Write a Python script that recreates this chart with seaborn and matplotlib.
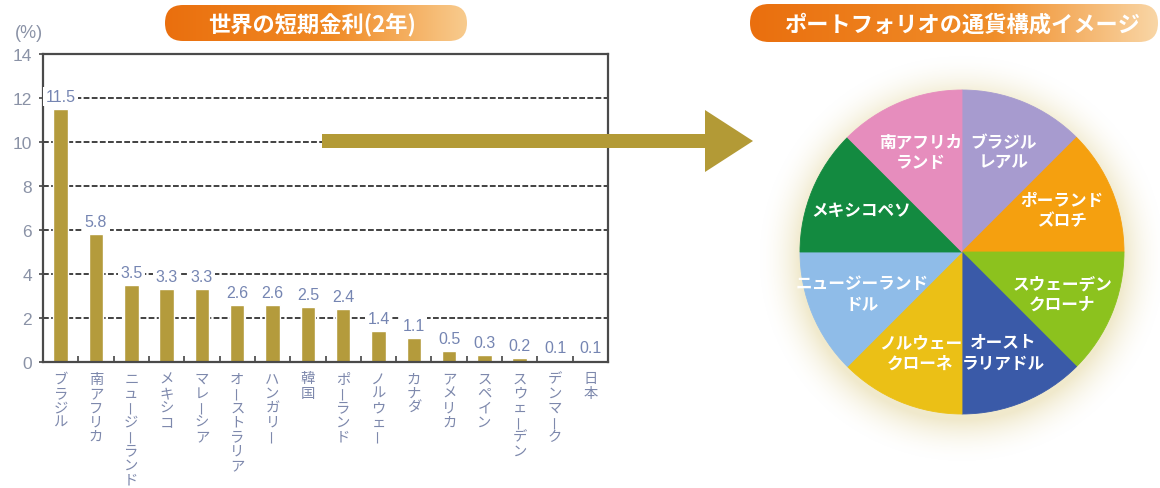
import numpy as np
import pandas as pd
import matplotlib
matplotlib.use("Agg")
import matplotlib.pyplot as plt
import seaborn as sns
from matplotlib.patches import FancyBboxPatch, Polygon
from matplotlib.colors import to_rgb

# ---------------- data ----------------
countries = ["ブラジル", "南アフリカ", "ニュージーランド", "メキシコ", "マレーシア",
             "オーストラリア", "ハンガリー", "韓国", "ポーランド", "ノルウェー",
             "カナダ", "アメリカ", "スペイン", "スウェーデン", "デンマーク", "日本"]
rates = [11.5, 5.8, 3.5, 3.3, 3.3, 2.6, 2.6, 2.5, 2.4, 1.4, 1.1, 0.5, 0.3, 0.2, 0.1, 0.1]
y_ticks = [0, 2, 4, 6, 8, 10, 12, 14]

currencies = ["ブラジル\nレアル", "ポーランド\nズロチ", "スウェーデン\nクローナ",
              "オースト\nラリアドル", "ノルウェー\nクローネ", "ニュージーランド\nドル",
              "メキシコペソ", "南アフリカ\nランド"]
weights = [1, 1, 1, 1, 1, 1, 1, 1]
currency_colors = ["#A79BCF", "#F5A00F", "#8CC21E", "#3A5AA8",
                   "#EBC016", "#8FBCE8", "#138A40", "#E68DBD"]

bar_title = "世界の短期金利(2年)"
pie_title = "ポートフォリオの通貨構成イメージ"
unit_label = "(%)"

BAR_COLOR = "#B49B3C"
ARROW_COLOR = "#B39A36"
TEXT_BLUE = "#7585B2"
TICK_GRAY = "#8A92A6"
CJK = "Noto Sans CJK JP"

sns.set_theme(style="white")
plt.rcParams["font.family"] = ["Liberation Sans", CJK, "DejaVu Sans"]

W, H = 1160, 489
fig = plt.figure(figsize=(W / 100, H / 100), dpi=100)
fig.patch.set_facecolor("white")

# ---------------- bar chart ----------------
ax_l, ax_r, ax_t, ax_b = 43, 608, 55, 363
ax = fig.add_axes([ax_l / W, 1 - ax_b / H, (ax_r - ax_l) / W, (ax_b - ax_t) / H])
df = pd.DataFrame({"country": countries, "rate": rates})
sns.barplot(data=df, x="country", y="rate", color=BAR_COLOR, saturation=1,
            width=0.41, ax=ax, zorder=2)
ax.set_ylim(0, 14)
ax.set_xlim(-0.5, len(countries) - 0.5)
ax.set_yticks(y_ticks)
ax.set_yticklabels([str(t) for t in y_ticks], color=TICK_GRAY, fontsize=12.5)
ax.set_xlabel("")
ax.set_ylabel("")
ax.set_xticks(range(len(countries)))
ax.set_xticklabels([])
ax.set_xticks(np.arange(0.5, len(countries) - 0.5, 1), minor=True)
ax.tick_params(axis="x", which="major", length=0)
ax.tick_params(axis="x", which="minor", direction="in", length=4, width=1.2,
               color="#444444", bottom=True)
ax.tick_params(axis="y", direction="out", length=3, width=1.2, color="#444444",
               pad=5, left=True)
for s in ax.spines.values():
    s.set_color("#4a4a4a")
    s.set_linewidth(1.6)
ax.set_axisbelow(True)
ax.yaxis.grid(True, linestyle=(0, (3.2, 1.3)), color="#333333", linewidth=1.3)
ax.xaxis.grid(False)

for p, v in zip(ax.patches, rates):
    ax.annotate(f"{v:.1f}", xy=(p.get_x() + p.get_width() / 2, p.get_height()),
                xytext=(0, 5), textcoords="offset pixels", ha="center", va="bottom",
                color=TEXT_BLUE, fontsize=11.5, zorder=4,
                bbox=dict(boxstyle="square,pad=0.15", fc="white", ec="none"))

# vertical (tategaki) category labels
fs_px = 14.2
pitch = 14.4
first_top = 8.0
for i, name in enumerate(countries):
    for k, ch in enumerate(name):
        cell_top = first_top + k * pitch
        if ch == "ー":
            ax.annotate(ch, xy=(i, 0), xycoords=("data", "axes fraction"),
                        xytext=(0, -(cell_top + pitch / 2)), textcoords="offset pixels",
                        ha="center", va="center", rotation=90, fontsize=10.3,
                        family=CJK, color="#7D88AC", annotation_clip=False)
        else:
            ax.annotate(ch, xy=(i, 0), xycoords=("data", "axes fraction"),
                        xytext=(0, -(cell_top + 0.88 * fs_px)), textcoords="offset pixels",
                        ha="center", va="baseline", fontsize=10.3,
                        family=CJK, color="#7D88AC", annotation_clip=False)

# ---------------- pie ----------------
cx, cy, R = 962, 253, 162
L = 1.3
half = L * R
axp = fig.add_axes([(cx - half) / W, 1 - (cy + half) / H, 2 * half / W, 2 * half / H])
axp.set_xlim(-L, L)
axp.set_ylim(-L, L)
axp.set_aspect("equal")
axp.axis("off")

# soft glow behind the pie
n = 500
gx, gy = np.meshgrid(np.linspace(-L, L, n), np.linspace(-L, L, n))
rr = np.hypot(gx, gy + 0.04)
alpha = np.clip(1 - (rr - 1.0) / 0.27, 0, 1) ** 2.0 * 0.7
glow = np.zeros((n, n, 4))
glow[..., :3] = (0.92, 0.88, 0.72)
glow[..., 3] = alpha
axp.imshow(glow, extent=(-L, L, -L, L), origin="lower", zorder=0, interpolation="bilinear")

wedges, _ = axp.pie(weights, colors=currency_colors, startangle=90, counterclock=False,
                    radius=1, wedgeprops=dict(linewidth=0))
for w in wedges:
    w.set_edgecolor(w.get_facecolor())
    w.set_linewidth(0.6)
    w.set_zorder(2)
axp.set_xlim(-L, L)
axp.set_ylim(-L, L)
for w, lab in zip(wedges, currencies):
    th = np.deg2rad((w.theta1 + w.theta2) / 2)
    axp.text(0.67 * np.cos(th), 0.67 * np.sin(th), lab, ha="center", va="center",
             multialignment="center", color="white", fontsize=12, fontweight="bold",
             family=CJK, linespacing=1.15, zorder=3)

# ---------------- overlay: titles, arrow ----------------
ov = fig.add_axes([0, 0, 1, 1], zorder=10)
ov.set_xlim(0, W)
ov.set_ylim(H, 0)
ov.axis("off")
ov.patch.set_alpha(0)


def pill(x0, y0, w, h, stops):
    t = np.linspace(0, 1, 300)
    cols = np.zeros((1, 300, 3))
    pos = [s[0] for s in stops]
    rgb = np.array([to_rgb(s[1]) for s in stops])
    for c in range(3):
        cols[0, :, c] = np.interp(t, pos, rgb[:, c])
    patch = FancyBboxPatch((x0, y0), w, h, boxstyle=f"round,pad=0,rounding_size={h / 2}",
                           fc="none", ec="none")
    ov.add_patch(patch)
    im = ov.imshow(cols, extent=(x0, x0 + w, y0 + h, y0), aspect="auto",
                   interpolation="bilinear", zorder=1)
    im.set_clip_path(patch)


pill(165, 6, 302, 36, [(0, "#EA6F0E"), (0.55, "#F08A24"), (1.0, "#F8CB8E")])
pill(750, 5, 408, 38, [(0, "#EA6F0E"), (0.6, "#F08E2A"), (1.0, "#F9D6A6")])
ov.text(312, 25, bar_title, ha="center", va="center", color="white", fontsize=16,
        fontweight="bold", family=CJK, zorder=3)
ov.text(962, 25, pie_title, ha="center", va="center", color="white", fontsize=16,
        fontweight="bold", family=CJK, zorder=3)
ov.text(29, 33, unit_label, ha="center", va="center", color=TICK_GRAY, fontsize=13)

arrow = Polygon([(322, 135), (705, 135), (705, 111), (753, 142), (705, 173),
                 (705, 149), (322, 149)], closed=True, fc=ARROW_COLOR, ec="none", zorder=2)
ov.add_patch(arrow)
ov.set_xlim(0, W)
ov.set_ylim(H, 0)

fig.savefig("out.png", dpi=100)
